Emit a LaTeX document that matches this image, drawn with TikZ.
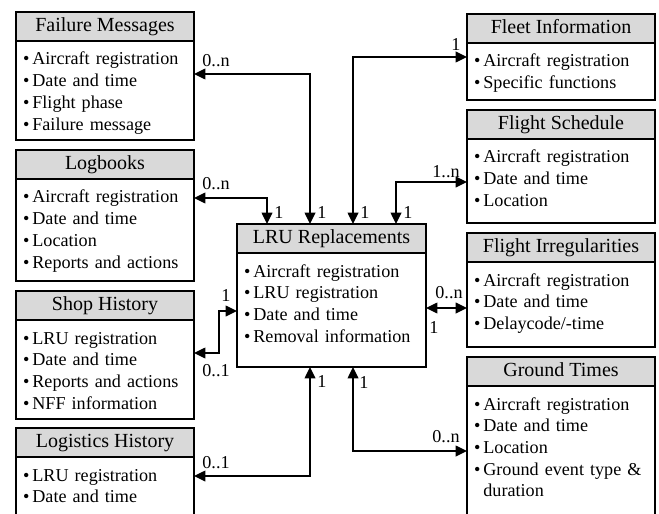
\documentclass[tikz,border=0pt]{standalone}
\usepackage{fontspec}
\setmainfont{Liberation Serif}
\usetikzlibrary{arrows.meta}
\definecolor{headgray}{RGB}{217,217,217}
\begin{document}
\begin{tikzpicture}[x=0.75pt,y=-0.75pt,
  head/.style={draw, line width=1.7pt, fill=headgray, anchor=north west, outer sep=0pt,
    inner ysep=0pt, minimum height=21.75pt, text height=10pt, text depth=3pt,
    font=\fontsize{15}{18}\selectfont},
  body/.style={draw, line width=1.7pt, fill=white, anchor=north, outer sep=0pt,
    inner xsep=5.25pt, inner ysep=0pt, align=left, text height=18pt,
    font=\fontsize{13.6}{16.3}\selectfont},
  link/.style={{Triangle[length=8.5pt,width=8pt]}-{Triangle[length=8.5pt,width=8pt]}, line width=1.1pt},
  lbl/.style={inner sep=0pt, font=\fontsize{13.6}{16.3}\selectfont}]
\useasboundingbox (0,0) rectangle (659,513);
\clip (0,0) rectangle (659,513);
% left column
\node[head, minimum width=133.5pt] (fmh) at (16,12) {Failure Messages};
\node[body, text width=123pt, text depth=56.25pt] (fmb) at (fmh.south) {\textbullet\,Aircraft registration\\\textbullet\,Date and time\\\textbullet\,Flight phase\\\textbullet\,Failure message};
\node[head, minimum width=133.5pt] (lbh) at (16,150) {Logbooks};
\node[body, text width=123pt, text depth=58.5pt] (lbb) at (lbh.south) {\textbullet\,Aircraft registration\\\textbullet\,Date and time\\\textbullet\,Location\\\textbullet\,Reports and actions};
\node[head, minimum width=133.5pt] (shh) at (16,291) {Shop History};
\node[body, text width=123pt, text depth=56.25pt] (shb) at (shh.south) {\textbullet\,LRU registration\\\textbullet\,Date and time\\\textbullet\,Reports and actions\\\textbullet\,NFF information};
\node[head, minimum width=133.5pt] (lgh) at (16,428) {Logistics History};
\node[body, text width=123pt, text depth=56.25pt] (lgb) at (lgh.south) {\textbullet\,LRU registration\\\textbullet\,Date and time};
% centre
\node[head, minimum width=141.75pt] (lruh) at (237,224) {LRU Replacements};
\node[body, text width=131.25pt, text depth=67.5pt] (lrub) at (lruh.south) {\textbullet\,Aircraft registration\\\textbullet\,LRU registration\\\textbullet\,Date and time\\\textbullet\,Removal information};
% right column
\node[head, minimum width=141pt] (fih) at (467,14) {Fleet Information};
\node[body, text width=130.5pt, text depth=24.75pt] (fib) at (fih.south) {\textbullet\,Aircraft registration\\\textbullet\,Specific functions};
\node[head, minimum width=141pt] (fsh) at (467,110) {Flight Schedule};
\node[body, text width=130.5pt, text depth=45pt] (fsb) at (fsh.south) {\textbullet\,Aircraft registration\\\textbullet\,Date and time\\\textbullet\,Location};
\node[head, minimum width=141pt] (irh) at (467,233) {Flight Irregularities};
\node[body, text width=130.5pt, text depth=45.75pt] (irb) at (irh.south) {\textbullet\,Aircraft registration\\\textbullet\,Date and time\\\textbullet\,Delaycode/-time};
\node[head, minimum width=141pt] (gth) at (467,357) {Ground Times};
\node[body, text width=130.5pt, text depth=90pt] (gtb) at (gth.south) {\textbullet\,Aircraft registration\\\textbullet\,Date and time\\\textbullet\,Location\\\textbullet\,Ground event type \&\\\phantom{\textbullet\,}duration};
% connector ends
\coordinate (fm-out) at ([yshift=-24.75pt]fmb.north east);
\coordinate (fm-in) at ([xshift=-16.125pt]lruh.north);
\coordinate (lb-out) at ([yshift=-14.25pt]lbb.north east);
\coordinate (lb-in) at ([xshift=-48.375pt]lruh.north);
\coordinate (fi-out) at ([yshift=-10.5pt]fib.north west);
\coordinate (fi-in) at ([xshift=16.125pt]lruh.north);
\coordinate (fs-out) at ([yshift=-32.25pt]fsb.north west);
\coordinate (fs-in) at ([xshift=48.375pt]lruh.north);
\coordinate (ir-out) at ([yshift=-34.5pt]irb.north west);
\coordinate (ir-in) at (ir-out -| lrub.east);
\coordinate (sh-out) at ([yshift=-24.75pt]shb.north east);
\coordinate (sh-in) at ([yshift=-43.5pt]lrub.north west);
\coordinate (lg-out) at ([yshift=-14.25pt]lgb.north east);
\coordinate (lg-in) at ([xshift=-16.125pt]lrub.south);
\coordinate (gt-out) at ([xshift=16.125pt]lrub.south);
\coordinate (gt-in) at ([yshift=-48.75pt]gtb.north west);
% connectors
\draw[link] (fm-out) -| (fm-in);
\draw[link] (lb-out) -| (lb-in);
\draw[link] (fi-out) -| (fi-in);
\draw[link] (fs-out) -| (fs-in);
\draw[link] (ir-in) -- (ir-out);
\draw[link] (sh-out) -- ++(18.75pt,0) |- (sh-in);
\draw[link] (lg-out) -| (lg-in);
\draw[link] (gt-out) |- (gt-in);
% multiplicities
\node[lbl] (fm-m1) at ([shift={(22,-13)}]fm-out) {0..n};
\node[lbl] (fm-m2) at ([shift={(12,-11)}]fm-in) {1};
\node[lbl] (lb-m1) at ([shift={(22,-14)}]lb-out) {0..n};
\node[lbl] (lb-m2) at ([shift={(12,-11)}]lb-in) {1};
\node[lbl] (fi-m1) at ([shift={(-11,-12)}]fi-out) {1};
\node[lbl] (fi-m2) at ([shift={(12,-11)}]fi-in) {1};
\node[lbl] (fs-m1) at ([shift={(-21,-10)}]fs-out) {1..n};
\node[lbl] (fs-m2) at ([shift={(12,-11)}]fs-in) {1};
\node[lbl] (ir-m1) at ([shift={(-18,-15)}]ir-out) {0..n};
\node[lbl] (ir-m2) at ([shift={(8,20)}]ir-in) {1};
\node[lbl] (sh-m1) at ([shift={(22,18)}]sh-out) {0..1};
\node[lbl] (sh-m2) at ([shift={(-11,-15)}]sh-in) {1};
\node[lbl] (lg-m1) at ([shift={(22,-13)}]lg-out) {0..1};
\node[lbl] (lg-m2) at ([shift={(12,15)}]lg-in) {1};
\node[lbl] (gt-m1) at ([shift={(11,16)}]gt-out) {1};
\node[lbl] (gt-m2) at ([shift={(-21,-14)}]gt-in) {0..n};
\end{tikzpicture}
\end{document}
